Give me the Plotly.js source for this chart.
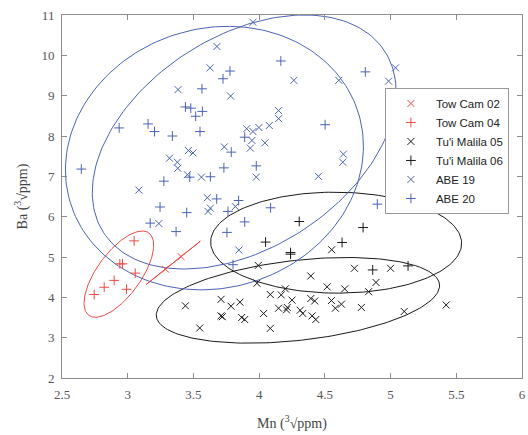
<!DOCTYPE html>
<html>
<head>
<meta charset="utf-8">
<script src="https://cdn.plot.ly/plotly-3.0.1.min.js"></script>
<style>html,body{margin:0;padding:0;background:#fff;}#chart{width:528px;height:435px;}</style>
</head>
<body>
<div id="chart"></div>
<script>
// ---- data (Mn, Ba in cube-root ppm) ----
const seriesNames = ["Tow Cam 02", "Tow Cam 04", "Tu'i Malila 05", "Tu'i Malila 06", "ABE 19", "ABE 20"];

const towCam02_x = [3.287, 3.406];
const towCam02_y = [4.70, 5.01];

const towCam04_x = [3.049, 2.940, 2.960, 3.057, 2.897, 2.821, 2.991, 2.745];
const towCam04_y = [5.40, 4.83, 4.83, 4.60, 4.42, 4.25, 4.20, 4.07];

const tuiMalila05_x = [3.439, 3.548, 3.710, 3.786, 3.854, 3.710, 3.720, 3.867, 3.890, 3.993,
  3.983, 4.199, 4.085, 4.168, 4.250, 4.393, 4.423, 4.034, 4.148, 4.214,
  4.208, 4.312, 4.332, 4.403, 4.431, 4.085, 4.393, 4.552, 4.725, 5.000,
  4.889, 4.517, 4.651, 4.833, 4.550, 4.580, 4.626, 4.778, 5.104, 5.423];
const tuiMalila05_y = [3.79, 3.24, 3.95, 3.78, 3.88, 3.54, 3.52, 3.50, 3.45, 4.79,
  4.35, 4.21, 4.07, 4.06, 3.93, 3.97, 3.91, 3.60, 3.73, 3.75,
  3.69, 3.68, 3.60, 3.54, 3.45, 3.23, 4.53, 5.18, 4.72, 4.72,
  4.37, 4.26, 4.21, 4.14, 3.92, 3.73, 3.83, 3.75, 3.65, 3.81];

const tuiMalila06_x = [4.049, 4.239, 4.239, 4.305, 4.631, 4.791, 5.021, 4.864, 5.133];
const tuiMalila06_y = [5.37, 5.11, 5.07, 5.88, 5.36, 5.73, 6.22, 4.68, 4.78];

const abe19_x = [3.953, 3.679, 3.626, 4.264, 3.383, 3.783, 4.148, 4.148, 3.905, 3.953,
  3.998, 4.077, 3.945, 4.044, 3.933, 3.735, 3.462, 3.497, 3.318, 3.378,
  3.381, 3.454, 3.561, 3.978, 3.085, 4.606, 4.985, 5.038, 4.641, 4.636,
  4.451, 3.237, 3.606, 3.629, 3.611, 3.819, 3.846];
const abe19_y = [10.82, 10.22, 9.69, 9.38, 9.15, 8.99, 8.63, 8.43, 8.18, 8.11,
  8.21, 8.26, 7.89, 7.83, 7.70, 7.73, 7.64, 7.58, 7.45, 7.35,
  7.20, 7.04, 6.98, 6.98, 6.66, 9.38, 9.36, 9.69, 7.55, 7.35,
  7.00, 5.83, 6.47, 6.21, 6.13, 6.25, 5.17];

const abe20_x = [4.165, 3.778, 3.725, 3.565, 3.439, 3.480, 3.568, 3.517, 2.935, 3.155,
  3.204, 3.340, 3.550, 3.890, 3.788, 2.647, 3.472, 3.629, 3.732, 3.978,
  3.275, 4.808, 4.502, 3.246, 3.171, 3.449, 3.368, 3.677, 3.763, 3.844,
  3.890, 3.755, 3.801, 4.087, 4.899];
const abe20_y = [9.86, 9.61, 9.42, 9.17, 8.72, 8.69, 8.61, 8.49, 8.20, 8.30,
  8.11, 8.00, 8.11, 7.97, 7.60, 7.18, 6.98, 6.99, 7.21, 7.26,
  6.88, 9.59, 8.28, 6.24, 5.84, 6.10, 5.63, 6.44, 6.13, 6.40,
  5.87, 5.61, 4.81, 6.22, 6.31];

const xTickVals = [2.5, 3, 3.5, 4, 4.5, 5, 5.5, 6];
const xTickText = ["2.5", "3", "3.5", "4", "4.5", "5", "5.5", "6"];
const yTickVals = [2, 3, 4, 5, 6, 7, 8, 9, 10, 11];
const yTickText = ["2", "3", "4", "5", "6", "7", "8", "9", "10", "11"];

// ---- styling ----
const RED = '#ef4a44', BLACK = '#1a1a1a', BLUE = '#4c63b6';

// 95% confidence ellipse from sample covariance
function confEllipse(xs, ys) {
  const n = xs.length;
  const mx = xs.reduce((a, b) => a + b, 0) / n;
  const my = ys.reduce((a, b) => a + b, 0) / n;
  let sxx = 0, syy = 0, sxy = 0;
  for (let i = 0; i < n; i++) {
    const dx = xs[i] - mx, dy = ys[i] - my;
    sxx += dx * dx; syy += dy * dy; sxy += dx * dy;
  }
  sxx /= (n - 1); syy /= (n - 1); sxy /= (n - 1);
  const tr = sxx + syy, det = sxx * syy - sxy * sxy;
  const disc = Math.sqrt(Math.max(0, tr * tr / 4 - det));
  const l1 = tr / 2 + disc, l2 = Math.max(0, tr / 2 - disc);
  const th = 0.5 * Math.atan2(2 * sxy, sxx - syy);
  const k = Math.sqrt(5.991);
  const a = k * Math.sqrt(l1), b = k * Math.sqrt(l2);
  const ex = [], ey = [];
  for (let i = 0; i <= 200; i++) {
    const t = 2 * Math.PI * i / 200;
    ex.push(mx + a * Math.cos(t) * Math.cos(th) - b * Math.sin(t) * Math.sin(th));
    ey.push(my + a * Math.cos(t) * Math.sin(th) + b * Math.sin(t) * Math.cos(th));
  }
  return {x: ex, y: ey};
}

const groups = [
  {name: seriesNames[0], x: towCam02_x, y: towCam02_y, color: RED, sym: 'x-thin'},
  {name: seriesNames[1], x: towCam04_x, y: towCam04_y, color: RED, sym: 'cross-thin'},
  {name: seriesNames[2], x: tuiMalila05_x, y: tuiMalila05_y, color: BLACK, sym: 'x-thin'},
  {name: seriesNames[3], x: tuiMalila06_x, y: tuiMalila06_y, color: BLACK, sym: 'cross-thin'},
  {name: seriesNames[4], x: abe19_x, y: abe19_y, color: BLUE, sym: 'x-thin'},
  {name: seriesNames[5], x: abe20_x, y: abe20_y, color: BLUE, sym: 'cross-thin'}
];

const traces = [];
groups.forEach(g => {
  const e = confEllipse(g.x, g.y);
  traces.push({x: e.x, y: e.y, type: 'scatter', mode: 'lines', showlegend: false,
    hoverinfo: 'skip', line: {color: g.color, width: 1}});
});
groups.forEach(g => {
  traces.push({x: g.x, y: g.y, type: 'scatter', mode: 'markers', name: g.name,
    marker: {symbol: g.sym, size: 7, color: g.color, line: {color: g.color, width: 1}}});
});

const axisCommon = {
  showgrid: false, zeroline: false, showline: true, mirror: 'ticks',
  linecolor: '#8c8c8c', linewidth: 1, ticks: 'inside', ticklen: 5, tickcolor: '#8c8c8c',
  tickfont: {family: 'Liberation Serif, serif', size: 13, color: '#555'}
};

const layout = {
  width: 528, height: 435,
  margin: {l: 62, r: 6, t: 15, b: 57},
  paper_bgcolor: '#fff', plot_bgcolor: '#fff',
  showlegend: true,
  xaxis: Object.assign({}, axisCommon, {
    range: [2.5, 6], tickmode: 'array', tickvals: xTickVals, ticktext: xTickText,
    ticklabelstandoff: 4,
    title: {text: 'Mn (<sup>3</sup>√ppm)', font: {family: 'Liberation Serif, serif', size: 14, color: '#444'}, standoff: 17}
  }),
  yaxis: Object.assign({}, axisCommon, {
    range: [2, 11], tickmode: 'array', tickvals: yTickVals, ticktext: yTickText,
    ticklabelstandoff: 4,
    title: {text: 'Ba (<sup>3</sup>√ppm)', font: {family: 'Liberation Serif, serif', size: 14, color: '#444'}, standoff: 10}
  }),
  legend: {
    x: 0.702, y: 0.799, xanchor: 'left', yanchor: 'top',
    bgcolor: '#fff', bordercolor: '#999', borderwidth: 1,
    font: {family: 'Liberation Sans, Arial, sans-serif', size: 11.5, color: '#222'},
    tracegroupgap: 0, itemwidth: 40
  }
};

Plotly.newPlot('chart', traces, layout, {displayModeBar: false, staticPlot: true});
</script>
</body>
</html>
